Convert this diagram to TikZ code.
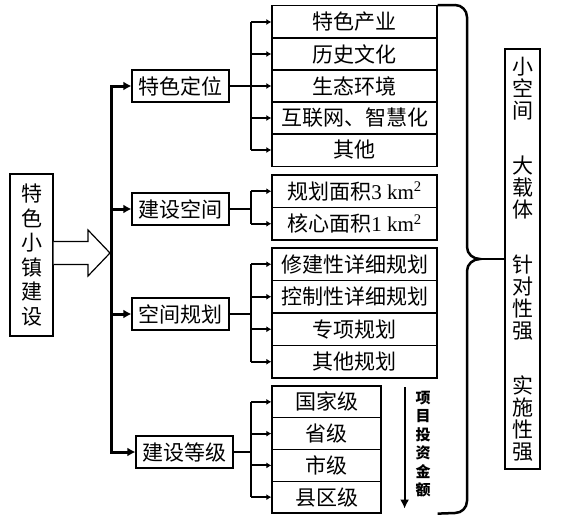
\documentclass[tikz,border=0pt]{standalone}
\usepackage{fontspec}
\setmainfont{Liberation Serif}
\newfontfamily\cjk{Noto Sans CJK SC}
\usetikzlibrary{arrows.meta, positioning, calc}

\begin{document}
\begin{tikzpicture}[
        x = 1pt, y = -1pt,
        >= {Latex[length = 5pt, width = 6pt]},
        box/.style = {draw, line width = 1.2pt, inner sep = 0pt, font = \fontsize{21}{22}\selectfont\cjk},
        head/.style = {box, minimum width = 97pt, minimum height = 32pt},
        item/.style = {box, minimum width = 165pt, minimum height = 32.5pt},
        rank/.style = {box, minimum width = 109pt, minimum height = 31.75pt},
        trunk/.style = {line width = 3pt, line cap = rect},
        fork/.style = {line width = 2pt},
        hollow/.style = {line width = 1.2pt, fill = white, line join = miter}
    ]

        \useasboundingbox (0,0) rectangle (562,522);

        % left box and the hollow arrow
        \node[box, minimum width = 43pt, minimum height = 162pt, align = center,
              font = \fontsize{21}{24.5}\selectfont\cjk] (town) at (31.5,255) {特\\色\\小\\镇\\建\\设};
        \coordinate (tip) at (110,253);
        \draw[hollow] ($(town.east |- tip)+(0,-11.5)$) -- ($(tip)+(-22,-11.5)$) -- ($(tip)+(-22,-23)$)
            -- (tip) -- ($(tip)+(-22,23)$) -- ($(tip)+(-22,11.5)$) -- ($(town.east |- tip)+(0,11.5)$);

        % second level
        \node[head] (pos)   at (180.5,86)  {特色定位};
        \node[head] (area)  at (180.5,209) {建设空间};
        \node[head] (plan)  at (180.5,314) {空间规划};
        \node[head] (level) at (184.5,452) {建设等级};

        \coordinate (bus) at (111,0);
        \draw[trunk] (pos.west -| bus) -- (level.west -| bus);
        \foreach \n in {pos, area, plan, level}
            \draw[trunk, -{Latex[length = 8pt, width = 9pt]}] (\n.west -| bus) -- (\n.west);

        % third level
        \foreach \name/\txt [count = \i] in {a1/特色产业, a2/历史文化, a3/生态环境, a4/互联网、智慧化, a5/其他}
            \node[item] (\name) at ({354.5}, {22+32*(\i-1)}) {\txt};
        \foreach \name/\txt [count = \i] in {b1/规划面积{\rmfamily 3 km\textsuperscript{2}}, b2/核心面积{\rmfamily 1 km\textsuperscript{2}}}
            \node[item] (\name) at ({354.5}, {191.25+32.5*(\i-1)}) {\txt};
        \foreach \name/\txt [count = \i] in {c1/修建性详细规划, c2/控制性详细规划, c3/专项规划, c4/其他规划}
            \node[item] (\name) at ({354.5}, {264.25+32.5*(\i-1)}) {\txt};
        \foreach \name/\txt [count = \i] in {d1/国家级, d2/省级, d3/市级, d4/县区级}
            \node[rank] (\name) at ({326.5}, {401.9+31.75*(\i-1)}) {\txt};

        \coordinate (fork) at (251,0);
        \draw[fork] (pos.east) -- (pos.east -| fork);
        \draw[fork] (area.east) -- (area.east -| fork);
        \draw[fork] (plan.east) -- (plan.east -| fork);
        \draw[fork] (level.east) -- (level.east -| fork);
        \draw[fork] (a1.west -| fork) -- (a5.west -| fork);
        \draw[fork] (b1.west -| fork) -- (b2.west -| fork);
        \draw[fork] (c1.west -| fork) -- (c4.west -| fork);
        \draw[fork] (d1.west -| fork) -- (d4.west -| fork);
        \foreach \n in {a1, a2, a3, a4, a5, b1, b2, c1, c2, c3, c4, d1, d2, d3, d4}
            \draw[fork, ->] (\n.west -| fork) -- (\n.west);

        % investment arrow
        \coordinate (up) at ($(d1.north east)+(23,2)$);
        \coordinate (down) at ($(d4.south east)+(23,-5)$);
        \draw[line width = 2pt, -{Latex[length = 9pt, width = 9pt]}] (up) -- (down);
        \node[align = center, font = \fontsize{15}{18.5}\selectfont\cjk\bfseries] (money) at (423,444) {项\\目\\投\\资\\金\\额};

        % brace and the right box
        \node[box, minimum width = 35pt, minimum height = 420pt, align = center] (side) at (522.5,259)
            {小\\空\\间\\[33pt]大\\载\\体\\[33pt]针\\对\\性\\强\\[33pt]实\\施\\性\\强};
        \coordinate (mid) at (480,259);
        \draw[line width = 2.5pt] (a1.north east) -- (455,5) to[out = 0, in = 90] (467,17) -- (467,247)
            to[out = -90, in = 180] (mid) to[out = 180, in = 90] (467,271) -- (467,501)
            to[out = -90, in = 0] (455,513) -- (a1.east |- d4.south);
        \draw[line width = 2.5pt] (mid) -- (side.west);

\end{tikzpicture}
\end{document}
